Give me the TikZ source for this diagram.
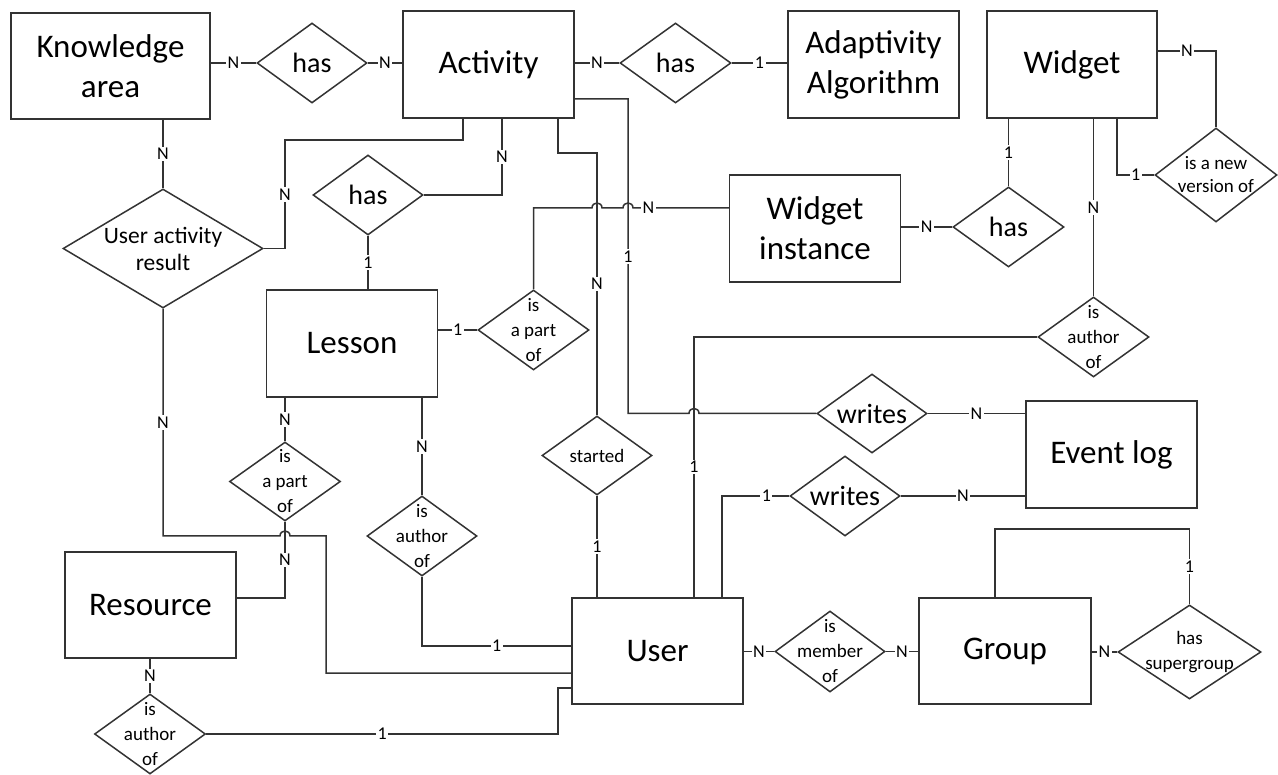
\documentclass[tikz,border=0pt]{standalone}
\usepackage{fontspec}
\setmainfont{Carlito}
\usetikzlibrary{shapes.geometric}
\definecolor{lc}{HTML}{333333}
\begin{document}
\begin{tikzpicture}[x=1pt,y=-1pt,
  ent/.style={draw=lc, line width=1.5pt, minimum width=171, minimum height=107, inner sep=0pt, align=center, font=\fontsize{33}{40}\selectfont},
  rel/.style={draw=lc, diamond, line width=1.5pt, inner sep=0pt},
  bigtext/.style={inner sep=0pt, align=center, font=\fontsize{28}{32}\selectfont},
  smalltext/.style={inner sep=0pt, align=center, font=\fontsize{19}{25}\selectfont},
  card/.style={fill=white, inner sep=1.5pt, font=\fontsize{18}{20}\selectfont},
  con/.style={draw=lc, line width=1.5pt}]
\useasboundingbox (0,0) rectangle (1278,775);
% entities
\node[ent, minimum width=199, minimum height=106] (ka) at (110.5,66) {Knowledge\\area};
\node[ent] (act) at (488.5,64.5) {Activity};
\node[ent] (ada) at (873.5,64.5) {Adaptivity\\Algorithm};
\node[ent, minimum width=170] (wid) at (1072,64.5) {Widget};
\node[ent] (wi) at (815,228.5) {Widget\\instance};
\node[ent] (les) at (352,343.5) {Lesson};
\node[ent] (ev) at (1111.5,454.5) {Event log};
\node[ent, minimum height=106] (res) at (150.5,605) {Resource};
\node[ent, minimum height=106] (usr) at (657.5,651) {User};
\node[ent, minimum width=172, minimum height=106] (grp) at (1005,651) {Group};
% relationships
\node[rel, minimum width=110, minimum height=80] (has1) at (312,63) {};
\node[bigtext] (has1t) at (has1) {has};
\node[rel, minimum width=111, minimum height=80] (has2) at (675.5,63) {};
\node[bigtext] (has2t) at (has2) {has};
\node[rel, minimum width=200, minimum height=119] (uar) at (163,248.5) {};
\node[inner sep=0pt, align=center, font=\fontsize{23.5}{27}\selectfont] (uart) at (uar) {User activity\\result};
\node[rel, minimum width=110, minimum height=80] (has3) at (368,195) {};
\node[bigtext] (has3t) at (has3) {has};
\node[rel, minimum width=111, minimum height=80] (iap1) at (533.5,330) {};
\node[smalltext] (iap1t) at (iap1) {is\\a part\\of};
\node[rel, minimum width=111, minimum height=80] (has4) at (1008.5,227) {};
\node[bigtext] (has4t) at (has4) {has};
\node[rel, minimum width=122, minimum height=94] (inv) at (1216,175) {};
\node[inner sep=0pt, align=center, font=\fontsize{19}{23}\selectfont] (invt) at (inv) {is a new\\version of};
\node[rel, minimum width=111, minimum height=80] (iaw) at (1093.5,337) {};
\node[smalltext] (iawt) at (iaw) {is\\author\\of};
\node[rel, minimum width=110, minimum height=79] (wr1) at (872,413.5) {};
\node[bigtext] (wr1t) at (wr1) {writes};
\node[rel, minimum width=110, minimum height=80] (wr2) at (845,496) {};
\node[bigtext] (wr2t) at (wr2) {writes};
\node[rel, minimum width=110, minimum height=79] (sta) at (597,455.5) {};
\node[smalltext] (stat) at (sta) {started};
\node[rel, minimum width=111, minimum height=79] (iap2) at (285,481.5) {};
\node[smalltext] (iap2t) at (iap2) {is\\a part\\of};
\node[rel, minimum width=110, minimum height=80] (ial) at (422,536) {};
\node[smalltext] (ialt) at (ial) {is\\author\\of};
\node[rel, minimum width=111, minimum height=80] (iar) at (150,734) {};
\node[smalltext] (iart) at (iar) {is\\author\\of};
\node[rel, minimum width=110, minimum height=81] (mem) at (830,651.5) {};
\node[smalltext] (memt) at (mem) {is\\member\\of};
\node[rel, minimum width=143, minimum height=94] (sup) at (1189.5,652) {};
\node[inner sep=0pt, align=center, font=\fontsize{19}{25}\selectfont] (supt) at (sup) {has\\supergroup};
% connectors
\draw[con] (ka.east |- has1.west) -- node[card]{N} (has1.west);
\draw[con] (has1.east) -- node[card]{N} (act.west |- has1.east);
\draw[con] (act.east |- has2.west) -- node[card]{N} (has2.west);
\draw[con] (has2.east) -- node[card]{1} (ada.west |- has2.east);
\draw[con] (ka.south -| uar.north) -- node[card]{N} (uar.north);
\draw[con] (uar.east) -- (285,0 |- uar.east) -- node[card]{N} (285,140) -- (463,140) -- (act.south -| 463,0);
\draw[con] (has3.east) -- (502,195) -- node[card]{N} (act.south -| 502,0);
\draw[con] (has3.south) -- node[card]{1} (has3.south |- les.north);
\draw[con] (les.east |- iap1.west) -- node[card]{1} (iap1.west);
\draw[con] (iap1.north) -- (533.5,208) -- (592,208) .. controls (592,201.3) and (602,201.3) .. (602,208) -- (623,208) .. controls (623,201.3) and (633,201.3) .. (633,208) -- node[card, pos=0.16]{N} (wi.west |- 0,208);
\draw[con] (act.south -| 558,0) -- (558,153) -- (597,153) -- node[card]{N} (sta.north);
\draw[con] (act.east |- 0,99) -- (628,99) -- node[card]{1} (628,0 |- wr1.west) -- (689,0 |- wr1.west) .. controls (689,406.8) and (699,406.8) .. (699,0 |- wr1.west) -- (wr1.west);
\draw[con] (wr1.east) -- node[card]{N} (ev.west |- wr1.east);
\draw[con] (sta.south) -- node[card]{1} (sta.south |- usr.north);
\draw[con] (usr.north -| 694,0) -- node[card]{1} (694,0 |- iaw.west) -- (iaw.west);
\draw[con] (iaw.north) -- node[card]{N} (iaw.north |- wid.south);
\draw[con] (wid.south -| has4.north) -- node[card]{1} (has4.north);
\draw[con] (has4.west) -- node[card]{N} (wi.east |- has4.west);
\draw[con] (wid.south -| 1117,0) -- (1117,0 |- inv.west) -- node[card]{1} (inv.west);
\draw[con] (wid.east |- 0,51) -- node[card]{N} (inv.north |- 0,51) -- (inv.north);
\draw[con] (usr.north -| 722,0) -- (722,0 |- wr2.west) -- node[card, pos=0.66]{1} (wr2.west);
\draw[con] (wr2.east) -- node[card]{N} (ev.west |- wr2.east);
\draw[con] (usr.east |- mem.west) -- node[card]{N} (mem.west);
\draw[con] (mem.east) -- node[card]{N} (grp.west |- mem.east);
\draw[con] (grp.east |- sup.west) -- node[card]{N} (sup.west);
\draw[con] (grp.north -| 995,0) -- (995,529) -- (sup.north |- 0,529) -- node[card]{1} (sup.north);
\draw[con] (les.south -| iap2.north) -- node[card]{N} (iap2.north);
\draw[con] (iap2.south) -- node[card]{N} (285,598) -- (res.east |- 0,598);
\draw[con] (uar.south) -- node[card]{N} (163,536) -- (280,536) .. controls (280,529.3) and (290,529.3) .. (290,536) -- (326,536) -- (326,673) -- (usr.west |- 0,673);
\draw[con] (les.south -| ial.north) -- node[card]{N} (ial.north);
\draw[con] (ial.south) -- (422,646) -- node[card]{1} (usr.west |- 0,646);
\draw[con] (res.south -| iar.north) -- node[card]{N} (iar.north);
\draw[con] (iar.east) -- node[card]{1} (558,734) -- (558,688) -- (usr.west |- 0,688);
\end{tikzpicture}
\end{document}
